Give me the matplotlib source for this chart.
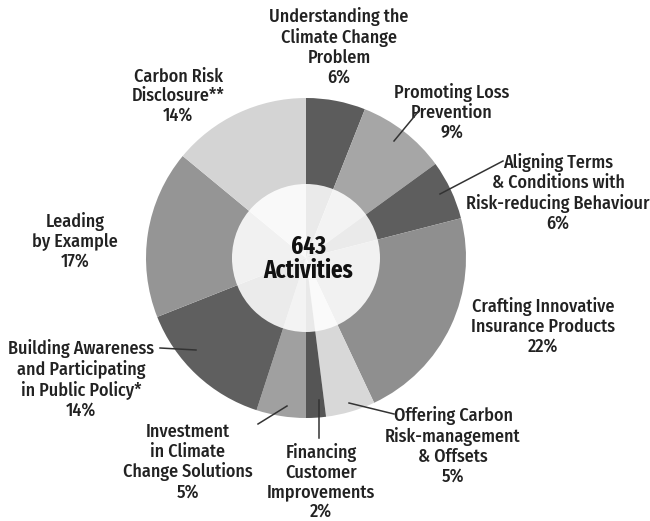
import matplotlib
matplotlib.use("Agg")
import matplotlib.pyplot as plt
from matplotlib.patches import Circle

categories = [
    "Understanding the\nClimate Change\nProblem",
    "Promoting Loss\nPrevention",
    "Aligning Terms\n& Conditions with\nRisk-reducing Behaviour",
    "Crafting Innovative\nInsurance Products",
    "Offering Carbon\nRisk-management\n& Offsets",
    "Financing\nCustomer\nImprovements",
    "Investment\nin Climate\nChange Solutions",
    "Building Awareness\nand Participating\nin Public Policy*",
    "Leading\nby Example",
    "Carbon Risk\nDisclosure**",
]
values = [6, 9, 6, 22, 5, 2, 5, 14, 17, 14]
colors = ["#5c5c5c", "#a6a6a6", "#5e5e5e", "#8f8f8f", "#d8d8d8",
          "#555555", "#a0a0a0", "#5f5f5f", "#959595", "#d4d4d4"]
total_activities = 643

# label centers (pixel coords) and leader lines (pixel coords)
label_pos = [(339, 47), (452, 112), (558, 193), (543, 326), (453, 446),
             (321, 482), (188, 462), (81, 379), (75, 241), (178, 96)]
leaders = [None, ((394, 141), (418, 112)), ((440, 194), (503, 161)), None,
           ((349, 403), (394, 414)), ((319, 400), (319, 438)),
           ((258, 424), (287, 406)), ((160, 348), (196, 350)), None, None]

W, H = 650, 521
fig = plt.figure(figsize=(W / 100, H / 100), dpi=100)
ax = fig.add_axes([0, 0, 1, 1])

cx, cy, R = 306, H - 258, 160
ax.pie(values, colors=colors, startangle=90, counterclock=False,
       center=(cx, cy), radius=R, wedgeprops=dict(linewidth=0),
       frame=True)
ax.set_xlim(0, W)
ax.set_ylim(0, H)
ax.set_aspect("equal")
ax.axis("off")
ax.add_patch(Circle((cx, cy), 74, facecolor="white", alpha=0.88,
                    edgecolor="none", zorder=5))

lab_fam = ["Fira Sans Condensed", "Fira Sans", "DejaVu Sans"]
ctr_fam = ["Fira Sans Extra Condensed", "Fira Sans Condensed", "DejaVu Sans"]
ax.text(cx + 2, H - 259, f"{total_activities}\nActivities", ha="center", va="center",
        fontsize=18, fontweight=700, family=ctr_fam, color="#111111",
        linespacing=0.95, zorder=6)

for cat, v, (px, py), ld in zip(categories, values, label_pos, leaders):
    ax.text(px, H - py, f"{cat}\n{v}%", ha="center", va="center",
            fontsize=13, fontweight=500, family=lab_fam, color="#222222",
            linespacing=1.13, zorder=6)
    if ld:
        (x0, y0), (x1, y1) = ld
        ax.plot([x0, x1], [H - y0, H - y1], color="#333333", lw=1.1, zorder=6)

fig.savefig("out.png", dpi=100)
